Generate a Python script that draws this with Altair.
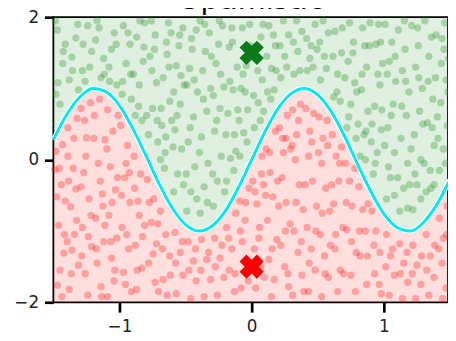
import altair as alt
import pandas as pd

title_text = "Optimistic"

# boundary curve
curve_x = [-1.5, -1.4, -1.3, -1.2, -1.1, -1.0, -0.9, -0.8, -0.7, -0.6, -0.5, -0.4, -0.3, -0.2, -0.1,
           0.0, 0.1, 0.2, 0.3, 0.4, 0.5, 0.6, 0.7, 0.8, 0.9, 1.0, 1.1, 1.2, 1.3, 1.4, 1.5]
curve_y = [0.28, 0.63, 0.88, 1.0, 0.95, 0.76, 0.44, 0.06, -0.34, -0.68, -0.91, -1.0, -0.93, -0.72, -0.39,
           0.0, 0.39, 0.72, 0.93, 1.0, 0.91, 0.68, 0.34, -0.06, -0.44, -0.76, -0.95, -1.0, -0.88, -0.63, -0.28]

green_pts = [
    (-1.47, 1.82), (-1.43, 1.35), (-1.48, 0.92), (-1.41, 1.62), (-1.45, 0.78),
    (-1.38, 1.12), (-1.33, 1.71), (-1.36, 1.44), (-1.31, 0.98),
    (-1.28, 1.25), (-1.24, 1.88), (-1.21, 1.52), (-1.26, 1.1),
    (-1.18, 1.68), (-1.14, 1.15), (-1.12, 1.42), (-1.17, 1.95),
    (-1.08, 1.3), (-1.04, 1.78), (-1.02, 1.05), (-1.06, 1.55),
    (-0.98, 0.92), (-0.95, 1.35), (-0.92, 1.62), (-0.97, 1.88), (-0.91, 0.85),
    (-0.88, 0.62), (-0.85, 1.05), (-0.82, 1.38), (-0.87, 1.72), (-0.83, 0.55), (-0.81, 1.92),
    (-0.78, 0.35), (-0.75, 0.72), (-0.72, 1.08), (-0.77, 1.45), (-0.73, 1.75), (-0.71, 0.25), (-0.76, 1.95),
    (-0.69, 0.0), (-0.66, -0.12), (-0.68, 0.48), (-0.62, 0.82), (-0.67, 1.15), (-0.64, 1.48), (-0.61, 1.78), (-0.65, 0.32), (-0.63, 1.92),
    (-0.59, -0.45), (-0.56, -0.2), (-0.53, 0.15), (-0.58, 0.42), (-0.54, 0.78), (-0.51, 1.05), (-0.57, 1.32), (-0.55, 1.6), (-0.52, 1.85), (-0.59, 0.95),
    (-0.49, -0.72), (-0.46, -0.45), (-0.43, -0.1), (-0.48, 0.25), (-0.44, 0.6), (-0.41, 0.95), (-0.47, 1.28), (-0.45, 1.55), (-0.42, 1.82), (-0.49, 1.05),
    (-0.39, -0.75), (-0.36, -0.38), (-0.33, -0.05), (-0.38, 0.32), (-0.34, 0.68), (-0.31, 1.0), (-0.37, 1.25), (-0.35, 1.52), (-0.32, 1.78), (-0.39, 1.95),
    (-0.29, -0.65), (-0.26, -0.3), (-0.23, 0.05), (-0.28, 0.4), (-0.24, 0.72), (-0.21, 1.02), (-0.27, 1.35), (-0.25, 1.62), (-0.22, 1.88), (-0.29, 0.9),
    (-0.19, -0.3), (-0.16, 0.02), (-0.13, 0.35), (-0.18, 0.65), (-0.14, 0.98), (-0.11, 1.3), (-0.17, 1.58), (-0.15, 1.85), (-0.12, 0.12),
    (-0.09, 0.05), (-0.06, 0.38), (-0.03, 0.7), (-0.08, 1.0), (-0.04, 1.32), (-0.01, 1.6), (-0.07, 1.85), (-0.05, 0.95),
    (0.02, 0.45), (0.05, 0.8), (0.08, 1.12), (0.03, 1.42), (0.07, 1.72), (0.09, 0.68),
    (0.12, 0.95), (0.15, 1.28), (0.18, 1.6), (0.13, 1.88), (0.17, 0.98),
    (0.22, 1.15), (0.25, 1.45), (0.28, 1.75), (0.24, 1.95),
    (0.32, 1.2), (0.35, 1.52), (0.38, 1.8), (0.34, 1.95),
    (0.42, 1.25), (0.45, 1.6), (0.48, 1.9), (0.44, 1.42),
    (0.52, 1.12), (0.55, 1.45), (0.58, 1.78), (0.54, 1.95),
    (0.62, 0.88), (0.65, 1.2), (0.68, 1.5), (0.63, 1.8), (0.67, 0.82),
    (0.72, 0.45), (0.75, 0.78), (0.78, 1.08), (0.73, 1.38), (0.77, 1.65), (0.79, 0.3), (0.74, 1.92),
    (0.82, 0.05), (0.85, 0.35), (0.88, 0.68), (0.83, 0.98), (0.87, 1.3), (0.89, 1.6), (0.84, 1.85), (0.86, 0.0),
    (0.92, -0.2), (0.95, 0.1), (0.98, 0.42), (0.93, 0.75), (0.97, 1.05), (0.99, 1.35), (0.94, 1.62), (0.96, 1.9), (0.91, 0.5),
    (1.02, -0.55), (1.05, -0.25), (1.08, 0.1), (1.03, 0.45), (1.07, 0.78), (1.09, 1.1), (1.04, 1.38), (1.06, 1.65), (1.01, 1.9), (1.08, -0.5),
    (1.12, -0.72), (1.15, -0.4), (1.18, -0.05), (1.13, 0.3), (1.17, 0.62), (1.19, 0.95), (1.14, 1.25), (1.16, 1.55), (1.11, 1.82), (1.18, -0.68),
    (1.22, -0.7), (1.25, -0.35), (1.28, 0.0), (1.23, 0.35), (1.27, 0.68), (1.29, 1.0), (1.24, 1.3), (1.26, 1.6), (1.21, 1.88), (1.28, -0.55),
    (1.32, -0.45), (1.35, -0.15), (1.38, 0.2), (1.33, 0.52), (1.37, 0.85), (1.39, 1.15), (1.34, 1.45), (1.36, 1.72), (1.31, 1.95), (1.38, -0.35),
    (1.42, -0.15), (1.45, 0.15), (1.48, 0.48), (1.43, 0.8), (1.47, 1.12), (1.49, 1.42), (1.44, 1.7), (1.46, 1.92), (1.41, 0.3),
    # second pass
    (-1.465, 1.08), (-1.425, 1.52), (-1.485, 1.95),
    (-1.355, 1.25), (-1.315, 1.9),
    (-1.275, 1.62), (-1.225, 1.3),
    (-1.155, 1.85), (-1.115, 1.2),
    (-1.075, 1.1), (-1.025, 1.62),
    (-0.975, 1.1), (-0.935, 1.78), (-0.915, 1.2),
    (-0.895, 1.2), (-0.855, 0.75), (-0.815, 1.58), (-0.845, 1.95),
    (-0.795, 0.62), (-0.755, 1.25), (-0.715, 0.55), (-0.735, 1.55),
    (-0.685, 0.72), (-0.655, 0.1), (-0.625, 1.3), (-0.605, 0.55), (-0.645, 1.65),
    (-0.595, 0.18), (-0.565, 0.62), (-0.535, 1.18), (-0.515, -0.35), (-0.545, 1.75),
    (-0.495, -0.2), (-0.465, 0.45), (-0.435, 1.12), (-0.415, -0.55), (-0.455, 1.7),
    (-0.395, 0.1), (-0.365, 0.85), (-0.335, -0.6), (-0.305, 1.45), (-0.355, 1.9),
    (-0.295, -0.2), (-0.265, 0.55), (-0.235, 1.2), (-0.205, -0.45), (-0.245, 1.95),
    (-0.195, 0.35), (-0.165, 1.1), (-0.135, -0.15), (-0.105, 0.7), (-0.145, 1.65),
    (-0.095, 0.55), (-0.065, 1.2), (-0.035, 0.25), (-0.015, 1.9),
    (0.015, 0.9), (0.045, 1.25), (0.085, 1.9), (0.065, 0.55),
    (0.115, 1.45), (0.145, 0.85), (0.185, 1.25), (0.165, 1.75),
    (0.215, 1.6), (0.265, 1.3),
    (0.315, 1.65), (0.365, 1.25),
    (0.415, 1.7), (0.465, 1.3), (0.495, 1.55),
    (0.515, 1.65), (0.565, 1.28),
    (0.615, 1.45), (0.645, 0.95), (0.685, 1.85),
    (0.705, 1.15), (0.735, 0.6), (0.765, 1.5), (0.795, 0.95),
    (0.805, 0.5), (0.835, 1.2), (0.865, 0.4), (0.895, 1.92), (0.855, 1.6),
    (0.905, 0.25), (0.935, -0.05), (0.955, 1.2), (0.985, 0.7), (0.975, 1.65),
    (1.005, 0.2), (1.035, -0.1), (1.055, 0.62), (1.085, 1.45), (1.025, 1.2),
    (1.105, -0.25), (1.135, 0.75), (1.165, 1.1), (1.195, -0.35), (1.155, 1.95),
    (1.205, 0.15), (1.235, -0.2), (1.265, 1.15), (1.295, 0.5), (1.255, 1.85),
    (1.305, -0.05), (1.335, 1.1), (1.365, 0.45), (1.395, 1.75), (1.355, -0.4),
    (1.405, 0.6), (1.435, 1.35), (1.465, -0.05), (1.485, 0.95), (1.455, 1.55),
]

red_pts = [
    (-1.48, 0.12), (-1.44, -0.35), (-1.46, -0.92), (-1.42, -1.31), (-1.47, -1.76), (-1.41, -0.58), (-1.43, 0.21), (-1.45, -1.55), (-1.49, -0.14),
    (-1.39, 0.45), (-1.35, -0.12), (-1.32, 0.58), (-1.37, -0.66), (-1.34, -1.05), (-1.31, -1.48), (-1.38, -1.82), (-1.36, -1.27), (-1.33, -0.41), (-1.39, 0.05),
    (-1.29, 0.72), (-1.25, 0.31), (-1.22, 0.8), (-1.27, -0.18), (-1.23, -0.55), (-1.28, -0.95), (-1.21, -1.22), (-1.26, -1.6), (-1.24, -1.9), (-1.29, -0.38),
    (-1.19, 0.62), (-1.15, 0.85), (-1.11, 0.28), (-1.16, -0.05), (-1.13, -0.48), (-1.18, -0.82), (-1.12, -1.15), (-1.17, -1.45), (-1.14, -1.78), (-1.11, -0.92),
    (-1.09, 0.7), (-1.05, 0.4), (-1.01, 0.62), (-1.07, -0.1), (-1.03, -0.42), (-1.08, -0.78), (-1.02, -1.1), (-1.06, -1.38), (-1.04, -1.7), (-1.09, -1.92),
    (-0.99, 0.48), (-0.94, 0.2), (-0.96, -0.25), (-0.92, -0.6), (-0.98, -0.95), (-0.93, -1.25), (-0.97, -1.58), (-0.91, -1.85), (-0.95, -0.05),
    (-0.89, 0.05), (-0.84, -0.2), (-0.86, -0.58), (-0.81, -0.92), (-0.88, -1.2), (-0.83, -1.52), (-0.87, -1.82), (-0.85, -0.78),
    (-0.79, -0.28), (-0.74, -0.55), (-0.76, -0.88), (-0.72, -1.18), (-0.78, -1.45), (-0.73, -1.72), (-0.71, -0.9),
    (-0.69, -0.72), (-0.65, -1.05), (-0.62, -1.35), (-0.67, -1.68), (-0.64, -1.9),
    (-0.58, -1.02), (-0.54, -1.3), (-0.52, -1.62), (-0.57, -1.88),
    (-0.48, -1.15), (-0.44, -1.42), (-0.42, -1.7), (-0.46, -1.95),
    (-0.38, -1.12), (-0.34, -1.4), (-0.31, -1.68), (-0.36, -1.92),
    (-0.28, -1.1), (-0.24, -1.38), (-0.21, -1.65), (-0.26, -1.9),
    (-0.19, -0.95), (-0.15, -1.25), (-0.12, -0.75), (-0.17, -1.55), (-0.13, -1.85),
    (-0.09, -0.58), (-0.05, -0.85), (-0.02, -0.4), (-0.07, -1.15), (-0.03, -1.45), (-0.08, -1.8),
    (0.01, -0.3), (0.04, -0.62), (0.08, 0.05), (0.06, -0.95), (0.02, -1.25), (0.07, -1.5), (0.03, -1.8), (0.09, -0.35),
    (0.11, 0.15), (0.14, -0.18), (0.18, 0.4), (0.16, -0.52), (0.12, -0.85), (0.19, -1.12), (0.13, -1.4), (0.17, -1.68), (0.15, -1.92),
    (0.21, 0.45), (0.24, 0.1), (0.27, 0.62), (0.23, -0.25), (0.26, -0.6), (0.29, -0.9), (0.22, -1.2), (0.25, -1.5), (0.28, -1.78), (0.26, 0.3),
    (0.31, 0.7), (0.34, 0.35), (0.37, 0.78), (0.33, 0.0), (0.36, -0.35), (0.39, -0.7), (0.32, -1.0), (0.35, -1.3), (0.38, -1.62), (0.31, -1.9),
    (0.41, 0.72), (0.44, 0.4), (0.47, 0.65), (0.43, 0.05), (0.46, -0.3), (0.49, -0.65), (0.42, -0.95), (0.45, -1.25), (0.48, -1.55), (0.43, -1.85),
    (0.51, 0.6), (0.54, 0.3), (0.57, 0.55), (0.53, -0.05), (0.56, -0.4), (0.59, -0.72), (0.52, -1.05), (0.55, -1.35), (0.58, -1.65), (0.53, -1.92),
    (0.61, 0.35), (0.64, 0.05), (0.68, 0.18), (0.66, -0.3), (0.62, -0.62), (0.69, -0.95), (0.63, -1.25), (0.67, -1.55), (0.65, -1.85),
    (0.71, -0.05), (0.74, -0.3), (0.78, -0.12), (0.76, -0.65), (0.72, -0.98), (0.79, -1.3), (0.75, -1.62),
    (0.81, -0.38), (0.84, -0.7), (0.88, -0.62), (0.86, -1.0), (0.82, -1.35), (0.87, -1.75),
    (0.91, -0.72), (0.94, -1.0), (0.97, -1.3), (0.93, -1.6), (0.98, -1.88),
    (1.02, -1.05), (1.05, -1.35), (1.08, -1.62), (1.04, -1.9),
    (1.12, -1.18), (1.15, -1.45), (1.18, -1.72), (1.14, -1.95),
    (1.22, -1.2), (1.25, -1.48), (1.28, -1.75), (1.24, -1.95),
    (1.32, -1.05), (1.35, -1.35), (1.38, -1.65), (1.34, -1.9),
    (1.42, -0.82), (1.45, -1.1), (1.48, -0.65), (1.44, -1.45), (1.47, -1.8),
    # second pass
    (-1.455, -0.12), (-1.415, -1.05), (-1.475, -0.52), (-1.435, -1.92),
    (-1.385, -0.3), (-1.345, 0.3), (-1.325, -0.85), (-1.365, -1.6), (-1.395, -1.15),
    (-1.255, 0.05), (-1.215, -0.78), (-1.285, -1.35), (-1.235, -1.08), (-1.265, 0.55),
    (-1.195, 0.3), (-1.145, -0.3), (-1.125, -0.65), (-1.175, -1.25), (-1.135, -1.92),
    (-1.095, 0.15), (-1.055, -0.6), (-1.015, -0.25), (-1.065, -1.15), (-1.035, -1.55),
    (-0.985, -0.5), (-0.945, -1.05), (-0.925, -0.18), (-0.955, -1.75),
    (-0.885, -0.4), (-0.825, -1.08), (-0.865, -1.55),
    (-0.775, -0.6), (-0.745, -1.32), (-0.705, -1.85),
    (-0.675, -1.25), (-0.615, -1.62),
    (-0.575, -1.45), (-0.525, -1.15),
    (-0.475, -1.55), (-0.425, -1.25),
    (-0.385, -1.55), (-0.325, -1.3),
    (-0.275, -1.5), (-0.225, -1.2),
    (-0.175, -1.1), (-0.125, -1.6),
    (-0.085, -1.0), (-0.045, -0.6), (-0.025, -1.7),
    (0.025, -0.45), (0.055, -1.1), (0.075, -0.2), (0.095, -1.65),
    (0.105, -0.5), (0.135, 0.1), (0.155, -1.25), (0.195, -0.3),
    (0.205, -0.65), (0.235, 0.3), (0.255, -1.0), (0.275, -1.6), (0.295, 0.15),
    (0.305, 0.2), (0.335, -0.6), (0.355, 0.55), (0.375, -1.15), (0.395, -1.85),
    (0.405, -0.35), (0.435, -1.45), (0.455, 0.25), (0.485, -1.0),
    (0.505, 0.1), (0.535, -0.75), (0.555, -1.6), (0.575, 0.2), (0.595, -1.2),
    (0.605, -0.35), (0.635, -1.05), (0.665, -0.05), (0.695, -1.6),
    (0.715, -0.6), (0.755, -1.15), (0.785, -1.85),
    (0.815, -1.0), (0.875, -1.35),
    (0.925, -1.2), (0.965, -1.75),
    (1.015, -1.5), (1.065, -1.25),
    (1.125, -1.6), (1.175, -1.3),
    (1.215, -1.6), (1.285, -1.35),
    (1.325, -1.55), (1.385, -1.2),
    (1.415, -1.25), (1.475, -1.05), (1.445, -1.95),
]

marker_x = [0.0, 0.0]
marker_y = [1.5, -1.5]
marker_cls = ["up", "down"]

curve_df = pd.DataFrame({"x": curve_x, "y": curve_y})
green_df = pd.DataFrame(green_pts, columns=["x", "y"])
red_df = pd.DataFrame(red_pts, columns=["x", "y"])
marker_df = pd.DataFrame({"x": marker_x, "y": marker_y, "c": marker_cls})
title_df = pd.DataFrame({"t": [title_text]})

xscale = alt.Scale(domain=[-1.5, 1.485], nice=False, zero=False)
yscale = alt.Scale(domain=[-2, 2], nice=False, zero=False)
xaxis = alt.Axis(values=[-1, 0, 1], title=None, tickSize=10, labelPadding=7)
yaxis = alt.Axis(values=[-2, 0, 2], title=None, tickSize=9, labelPadding=6)

X = alt.X("x:Q", scale=xscale, axis=xaxis)
Y = alt.Y("y:Q", scale=yscale, axis=yaxis)

green_area = alt.Chart(curve_df).mark_area(color="#008000", opacity=0.12, interpolate="monotone").encode(
    x=X, y=Y, y2=alt.datum(2))
red_area = alt.Chart(curve_df).mark_area(color="#ff0000", opacity=0.13, interpolate="monotone").encode(
    x=X, y=Y, y2=alt.datum(-2))

green_pts_layer = alt.Chart(green_df).mark_circle(color="#1e8a1e", opacity=0.3, size=55).encode(x=X, y=Y)
red_pts_layer = alt.Chart(red_df).mark_circle(color="#ff1010", opacity=0.3, size=55).encode(x=X, y=Y)

halo = alt.Chart(curve_df).mark_line(color="white", strokeWidth=5, interpolate="monotone").encode(x=X, y=Y)
line = alt.Chart(curve_df).mark_line(color="#00e8f0", strokeWidth=3, interpolate="monotone").encode(x=X, y=Y)

markers = alt.Chart(marker_df).mark_point(shape="cross", angle=45, size=620, filled=True, opacity=1).encode(
    x=X, y=Y,
    color=alt.Color("c:N", scale=alt.Scale(domain=["up", "down"], range=["#0b7a1c", "#ff0000"]), legend=None))

title_layer = alt.Chart(title_df).mark_text(
    fontSize=29, font="DejaVu Sans", color="black", baseline="alphabetic", align="center"
).encode(text="t:N", x=alt.value(200), y=alt.value(-8))

chart = alt.layer(green_area, red_area, green_pts_layer, red_pts_layer, halo, line, markers, title_layer).properties(
    width=400, height=289,
    autosize=alt.AutoSizeParams(type="none"),
    padding={"left": 46, "top": 7, "right": 0, "bottom": 40},
).configure_view(stroke="black", strokeWidth=1.8).configure_axis(
    domain=False, grid=False, ticks=True, tickColor="black", tickWidth=2.7,
    labelFontSize=17, labelFont="DejaVu Sans", labelColor="#222222",
)

chart.save("out.html", embed_options={"renderer": "svg", "actions": False})
